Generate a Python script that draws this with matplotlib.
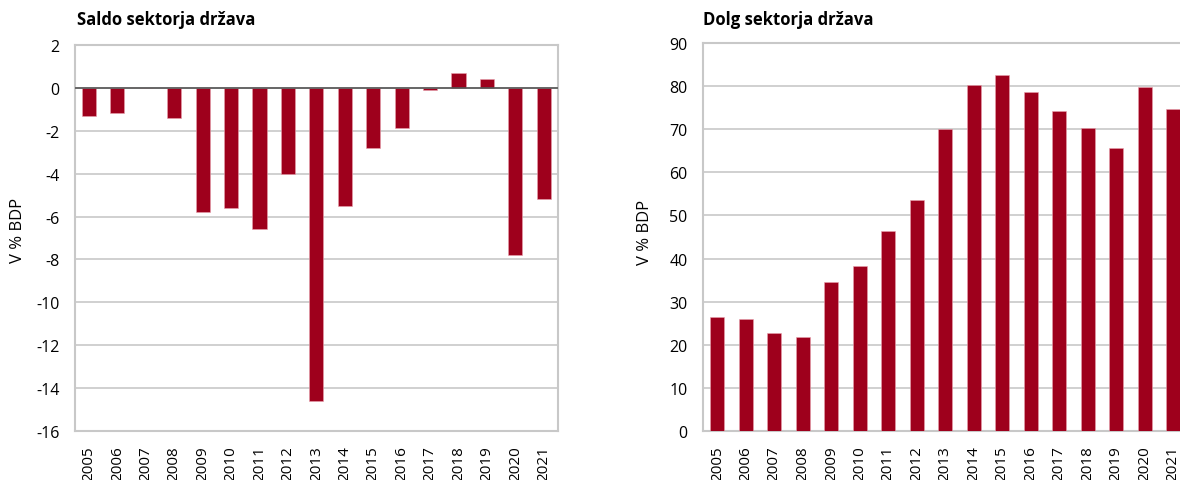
import matplotlib
matplotlib.use("Agg")
import matplotlib.pyplot as plt
import numpy as np

plt.rcParams['font.family'] = ['Open Sans', 'DejaVu Sans']

years = [str(y) for y in range(2005, 2022)]
saldo = [-1.3, -1.2, 0.0, -1.4, -5.8, -5.6, -6.6, -4.0, -14.6, -5.5, -2.8, -1.9, -0.1, 0.7, 0.4, -7.8, -5.2]
dolg = [26.4, 26.0, 22.8, 21.8, 34.5, 38.3, 46.4, 53.5, 69.9, 80.3, 82.5, 78.5, 74.2, 70.2, 65.6, 79.7, 74.6]

title_left = "Saldo sektorja država"
title_right = "Dolg sektorja država"
ylabel = "V % BDP"
left_ticks = list(range(2, -17, -2))
right_ticks = list(range(0, 91, 10))

BAR = '#9E001C'
GRID = '#C8C8C8'

W, H = 1180, 481
fig = plt.figure(figsize=(W / 100, H / 100), dpi=100)

def px_axes(x0, y0, x1, y1):
    return fig.add_axes([x0 / W, 1 - y1 / H, (x1 - x0) / W, (y1 - y0) / H])

ax1 = px_axes(74.7, 45.7, 558, 432.3)
ax2 = px_axes(703, 43.7, 703 + 17 * 28.5, 432.3)

x = np.arange(len(years))

def style(ax, ticks, lo, hi):
    ax.set_xlim(-0.5, len(years) - 0.5)
    ax.set_ylim(lo, hi)
    ax.set_yticks(ticks)
    ax.set_yticklabels([str(t).replace('\u2212', '-') for t in ticks], fontsize=11.5)
    ax.set_xticks(x)
    ax.set_xticklabels(years, rotation=90, fontsize=11)
    ax.tick_params(length=0, axis='y', pad=11)
    ax.tick_params(length=0, axis='x', pad=10)
    ax.grid(axis='y', color=GRID, linewidth=1.2)
    ax.set_axisbelow(True)
    for s in ax.spines.values():
        s.set_color(GRID)
        s.set_linewidth(1.5)

ax1.bar(x, saldo, width=0.5, color=BAR, edgecolor='#E8A0AC', linewidth=0.4, zorder=3)
style(ax1, left_ticks, -16, 2)
ax1.axhline(0, color='#555555', linewidth=1.2, zorder=4)

ax2.bar(x, dolg, width=0.5, color=BAR, edgecolor='#E8A0AC', linewidth=0.4, zorder=3)
style(ax2, right_ticks, 0, 90)

fig.text(18 / W, 1 - 230 / H, ylabel, fontsize=12, rotation=90, va='center', ha='center')
fig.text(645 / W, 1 - 232 / H, ylabel, fontsize=12, rotation=90, va='center', ha='center')

fig.text(77 / W, 1 - 20 / H, title_left, fontsize=12, fontweight='bold', va='center', ha='left')
fig.text(703 / W, 1 - 20 / H, title_right, fontsize=12, fontweight='bold', va='center', ha='left')

fig.savefig('out.png', dpi=100)
